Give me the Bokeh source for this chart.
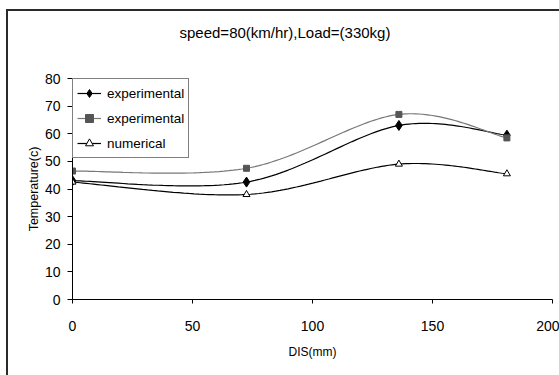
import numpy as np
from bokeh.plotting import figure
from bokeh.layouts import column
from bokeh.models import Range1d, Legend, LegendItem, Title, FixedTicker, InlineStyleSheet
from bokeh.embed import file_html
from bokeh.resources import INLINE

# ---- data ----
dis = [0, 72.5, 136, 181]
exp1 = [43, 42.5, 63, 59.5]
exp2 = [46.5, 47.5, 67, 58.5]
numerical = [42.5, 38, 49, 45.5]
x_ticks = [0, 50, 100, 150, 200]
y_ticks = [0, 10, 20, 30, 40, 50, 60, 70, 80]
title_text = "speed=80(km/hr),Load=(330kg)"
x_label = "DIS(mm)"
y_label = "Temperature(c)"
labels = ["experimental", "experimental", "numerical"]


def smooth(xs, ys, n=40):
    P = np.column_stack([np.asarray(xs, float), np.asarray(ys, float)])
    t = np.linspace(0, 1, n)[:, None]
    parts = []
    for i in range(len(P) - 1):
        p0 = P[max(i - 1, 0)]
        p1 = P[i]
        p2 = P[i + 1]
        p3 = P[min(i + 2, len(P) - 1)]
        c1 = p1 + (p2 - p0) / 6.0
        c2 = p2 - (p3 - p1) / 6.0
        B = ((1 - t) ** 3) * p1 + 3 * ((1 - t) ** 2) * t * c1 + 3 * (1 - t) * t ** 2 * c2 + t ** 3 * p2
        parts.append(B if i == 0 else B[1:])
    B = np.vstack(parts)
    return B[:, 0], B[:, 1]


FONT = "Liberation Sans"

p = figure(width=559, height=375, output_backend="svg", toolbar_location=None,
           x_range=Range1d(0, 200), y_range=Range1d(0, 80),
           min_border_left=72, min_border_right=7, min_border_top=78, min_border_bottom=76)
p.background_fill_color = "white"
p.border_fill_color = None
p.outline_line_color = None
p.xgrid.visible = False
p.ygrid.visible = False

spacer = Title(text=" ", text_font_size="1px", standoff=35)
p.add_layout(spacer, "above")
t = Title(text=title_text, align="left", offset=107, text_font=FONT, text_font_size="15px",
          text_font_style="normal", text_color="black", standoff=0)
p.add_layout(t, "above")

for ax in (p.xaxis[0], p.yaxis[0]):
    ax.axis_line_color = "black"
    ax.axis_line_width = 1
    ax.major_tick_line_color = "black"
    ax.minor_tick_line_color = None
    ax.major_tick_in = 0
    ax.major_label_text_font = FONT
    ax.major_label_text_font_size = "14px"
    ax.major_label_text_color = "black"
    ax.axis_label_text_font = FONT
    ax.axis_label_text_font_style = "normal"
    ax.axis_label_text_color = "black"

p.xaxis[0].ticker = FixedTicker(ticks=x_ticks)
p.yaxis[0].ticker = FixedTicker(ticks=y_ticks)
p.xaxis[0].major_tick_out = 4
p.yaxis[0].major_tick_out = 5
p.xaxis[0].major_label_standoff = 17
p.yaxis[0].major_label_standoff = 7
p.xaxis[0].axis_label = x_label
p.yaxis[0].axis_label = y_label
p.xaxis[0].axis_label_text_font_size = "12px"
p.yaxis[0].axis_label_text_font_size = "12.5px"
p.xaxis[0].axis_label_standoff = 11
p.yaxis[0].axis_label_standoff = 1

sx, sy = smooth(dis, exp1)
l1 = p.line(sx, sy, line_color="black", line_width=1.2)
m1 = p.scatter(dis, exp1, marker="diamond", size=10, fill_color="black", line_color="black")
sx, sy = smooth(dis, exp2)
l2 = p.line(sx, sy, line_color="#777777", line_width=1.2)
m2 = p.scatter(dis, exp2, marker="square", size=6, fill_color="#555555", line_color="#555555")
sx, sy = smooth(dis, numerical)
l3 = p.line(sx, sy, line_color="black", line_width=1.2)
m3 = p.scatter(dis, numerical, marker="triangle", size=7, fill_color="white", line_color="black")

legend = Legend(items=[LegendItem(label=labels[0], renderers=[l1, m1]),
                       LegendItem(label=labels[1], renderers=[l2, m2]),
                       LegendItem(label=labels[2], renderers=[l3, m3])],
                location="top_left", margin=0, padding=4, spacing=5,
                glyph_width=24, glyph_height=20, label_height=20, label_standoff=6,
                label_text_font=FONT, label_text_font_size="13.5px", label_text_color="black",
                border_line_color="black", border_line_width=1, background_fill_alpha=1)
p.add_layout(legend, "center")

# outer chart-area border (only its left and top edges fall inside the window)
page = column(p, width=559, height=375)
page.stylesheets = [InlineStyleSheet(css=(
    ":host { background-color: #ffffff;"
    " background-image: linear-gradient(#2a2a2a, #2a2a2a), linear-gradient(#2a2a2a, #2a2a2a);"
    " background-position: 6px 9px, 6px 9px;"
    " background-size: 2px 500px, 700px 2px;"
    " background-repeat: no-repeat, no-repeat; }"
))]

open("out.html", "w").write(file_html(page, INLINE))
